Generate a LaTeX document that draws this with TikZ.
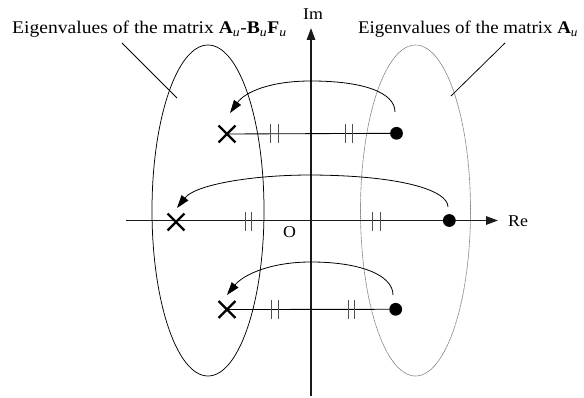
\documentclass[tikz,border=0pt]{standalone}
\usepackage{fontspec}
\usepackage{graphicx}
\setmainfont{Liberation Serif}
\usetikzlibrary{arrows.meta,shapes.geometric,shapes.misc}
\definecolor{axisc}{HTML}{1A1A1A}
\definecolor{tickc}{HTML}{505050}
\definecolor{ellc}{HTML}{7A7A7A}
\newcommand{\lbl}[1]{\scalebox{1.1}[1]{\fontsize{17.8}{20}\selectfont #1}}
\newcommand{\lblr}[1]{\scalebox{1.06}[1]{\fontsize{17.8}{20}\selectfont #1}}
\newcommand{\sml}[1]{\scalebox{1.08}[1]{\fontsize{16.5}{19}\selectfont #1}}
\tikzset{
  axisline/.style={line width=1.4pt, draw=axisc, -{Triangle[length=12pt,width=8.5pt]}},
  leftell/.style={ellipse, draw=black, line width=0.75pt, inner sep=0pt},
  rightell/.style={ellipse, draw=ellc, line width=0.65pt, dash pattern=on 1.2pt off 0.5pt, inner sep=0pt},
  rowline/.style={line width=0.85pt, draw=black},
  tickmark/.style={line width=0.9pt, draw=tickc},
  crossmark/.style={cross out, draw=black, line width=2.4pt, minimum size=14.5pt, inner sep=0pt},
  dotmark/.style={circle, fill=black, minimum size=12.8pt, inner sep=0pt},
  movearrow/.style={line width=0.8pt, -{Triangle[length=13pt,width=8.5pt]}},
  pointer/.style={line width=0.75pt, draw=black},
  txt/.style={inner sep=0pt, anchor=base west}
}
\begin{document}
\begin{tikzpicture}[x=1pt,y=-1pt]
\useasboundingbox (0,0) rectangle (584,398);
% ellipses
\node[leftell, minimum width=112pt, minimum height=331pt] (eL) at (208,210.5) {};
\node[rightell, minimum width=110pt, minimum height=331pt] (eR) at (415.5,210.5) {};
% axes
\coordinate (xl) at (126,220.5);
\coordinate (xr) at (498,220.5);
\coordinate (yb) at (311,396);
\coordinate (yt) at (311,28);
\draw[axisline] (xl) -- (xr);
\draw[axisline] (yb) -- (yt);
% labels
\node[txt] (im) at (303,20) {\sml{Im}};
\node[txt] (re) at (508,227) {\sml{Re}};
\node[txt] (o) at (283,238) {\sml{O}};
\node[txt] (tL) at (12,34) {\lbl{Eigenvalues of the matrix \textbf{A}\textsubscript{\itshape u}-\textbf{B}\textsubscript{\itshape u}\textbf{F}\textsubscript{\itshape u}}};
\node[txt] (tR) at (358,34) {\lblr{Eigenvalues of the matrix \textbf{A}\textsubscript{\itshape u}}};
% pointers
\coordinate (pL1) at (122,43);
\coordinate (pL2) at (177,98);
\coordinate (pR1) at (505,43);
\coordinate (pR2) at (451,96);
\draw[pointer] (pL1) -- (pL2);
\draw[pointer] (pR1) -- (pR2);
% points
\node[crossmark] (c1) at (227,134) {};
\node[dotmark] (d1) at (396.5,133.3) {};
\node[crossmark] (c2) at (176,222) {};
\node[dotmark] (d2) at (449.3,220.5) {};
\node[crossmark] (c3) at (227,309.5) {};
\node[dotmark] (d3) at (395.7,309.3) {};
\draw[rowline] (c1.center) -- (d1);
\draw[rowline] (c3.center) -- (d3);
% ticks
\foreach \x/\y in {270.7/133.5, 278.3/133.5, 345/133.5, 352.3/133.5,
                   245/221.5, 251.7/221.5, 372.7/221.5, 380/221.5,
                   271.7/309.5, 278.3/309.5, 348.3/309.5, 354/309.5}
  \draw[tickmark] (\x,\y-9.5) -- (\x,\y+9.5);
% moving arrows
\coordinate (s1) at (395,112);
\coordinate (t1) at (230,113);
\coordinate (s2) at (448,207);
\coordinate (t2) at (177,208);
\coordinate (s3) at (393,295);
\coordinate (t3) at (227,295);
\draw[movearrow] (s1) .. controls (395,92) and (362,81) .. (311,81) .. controls (270,81) and (245,92) .. (t1);
\draw[movearrow] (s2) .. controls (448,190) and (400,175.5) .. (311,175) .. controls (250,175) and (195,185) .. (t2);
\draw[movearrow] (s3) .. controls (393,275) and (360,262) .. (311,262) .. controls (270,262) and (243,275) .. (t3);
\end{tikzpicture}
\end{document}
